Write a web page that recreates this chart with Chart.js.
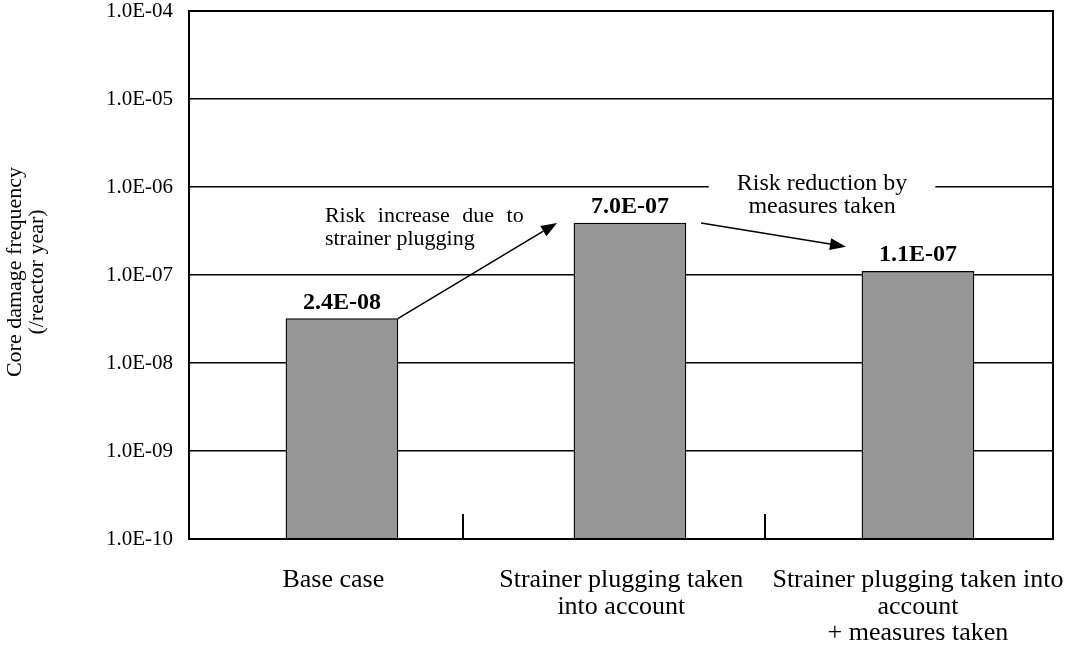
<!DOCTYPE html>
<html>
<head>
<meta charset="utf-8">
<script src="https://cdn.jsdelivr.net/npm/chart.js@4.4.0/dist/chart.umd.min.js"></script>
<style>
  html, body { margin: 0; padding: 0; background: #fff; }
</style>
</head>
<body>
<canvas id="cdfChart" width="1073" height="652"></canvas>
<script>
// --- data ---
const categories = [
  ['Base case'],
  ['Strainer plugging taken', 'into account'],
  ['Strainer plugging taken into', 'account', '+ measures taken']
];
const barPositions = [0, 1, 2];
const labelPositions = [-0.03, 0.97, 2];
const cdfValues = [3.2e-8, 3.9e-7, 1.1e-7];          // bar heights as drawn
const valueLabels = ['2.4E-08', '7.0E-07', '1.1E-07']; // printed labels
const yTicks = [1e-10, 1e-9, 1e-8, 1e-7, 1e-6, 1e-5, 1e-4];
const separatorTicks = [0.42, 1.47];
const arrows = [
  { from: [0.194, 3.2e-8], to: [0.747, 3.9e-7] },
  { from: [1.247, 3.9e-7], to: [1.75, 2.1e-7] }
];
const notes = [
  { lines: ['Risk increase due to', 'strainer plugging'], at: [-0.059, 4.0e-7], align: 'left', box: false, size: 22 },
  { lines: ['Risk reduction by', 'measures taken'], at: [1.667, 9.2e-7], align: 'center', box: true, size: 24 }
];
const yTitle = ['Core damage frequency', '(/reactor year)'];

const SERIF = "'Liberation Serif', 'Times New Roman', serif";

function fmtExp(v) {
  const parts = v.toExponential(1).split('e');
  const n = parseInt(parts[1], 10);
  return parts[0] + 'E' + (n < 0 ? '-' : '+') + String(Math.abs(n)).padStart(2, '0');
}

const decor = {
  id: 'decor',
  afterDraw(chart) {
    const ctx = chart.ctx;
    const xs = chart.scales.x, ys = chart.scales.y;
    const area = chart.chartArea;
    ctx.save();
    ctx.strokeStyle = '#000';
    ctx.fillStyle = '#000';

    // frame
    ctx.lineWidth = 2;
    ctx.strokeRect(area.left, area.top, area.right - area.left, area.bottom - area.top);

    // category separators
    separatorTicks.forEach(v => {
      const x = Math.round(xs.getPixelForValue(v));
      ctx.beginPath();
      ctx.moveTo(x, area.bottom - 25);
      ctx.lineTo(x, area.bottom);
      ctx.stroke();
    });

    // value labels
    ctx.font = 'bold 24px ' + SERIF;
    ctx.textAlign = 'center';
    ctx.textBaseline = 'alphabetic';
    chart.getDatasetMeta(0).data.forEach((bar, i) => {
      ctx.fillText(valueLabels[i], bar.x, bar.y - 10);
    });

    // arrows
    ctx.lineWidth = 1.5;
    arrows.forEach(a => {
      const x1 = xs.getPixelForValue(a.from[0]), y1 = ys.getPixelForValue(a.from[1]);
      const x2 = xs.getPixelForValue(a.to[0]), y2 = ys.getPixelForValue(a.to[1]);
      const ang = Math.atan2(y2 - y1, x2 - x1);
      const len = 16, half = 6;
      const bx = x2 - len * Math.cos(ang), by = y2 - len * Math.sin(ang);
      ctx.beginPath();
      ctx.moveTo(x1, y1);
      ctx.lineTo(bx, by);
      ctx.stroke();
      ctx.beginPath();
      ctx.moveTo(x2, y2);
      ctx.lineTo(bx + half * Math.sin(ang), by - half * Math.cos(ang));
      ctx.lineTo(bx - half * Math.sin(ang), by + half * Math.cos(ang));
      ctx.closePath();
      ctx.fill();
    });

    // notes
    notes.forEach(n => {
      const x = xs.getPixelForValue(n.at[0]), y = ys.getPixelForValue(n.at[1]);
      ctx.font = n.size + 'px ' + SERIF;
      ctx.textAlign = n.align;
      if (n.box) {
        const w = ctx.measureText(n.lines[0]).width + 56;
        ctx.fillStyle = '#fff';
        ctx.fillRect(x - w / 2, y - 20, w, 26);
        ctx.fillStyle = '#000';
      }
      n.lines.forEach((t, i) => {
        ctx.wordSpacing = (!n.box && i === 0) ? '7px' : '0px';
        ctx.fillText(t, x, y + i * 23);
      });
      ctx.wordSpacing = '0px';
    });

    // y axis title
    ctx.font = '22px ' + SERIF;
    ctx.textAlign = 'center';
    ctx.textBaseline = 'middle';
    ctx.translate(26, 272);
    ctx.rotate(-Math.PI / 2);
    ctx.fillText(yTitle[0], 0, -11);
    ctx.fillText(yTitle[1], 0, 11);
    ctx.restore();
  }
};

new Chart(document.getElementById('cdfChart').getContext('2d'), {
  type: 'bar',
  data: {
    datasets: [{
      data: barPositions.map((x, i) => ({ x: x, y: cdfValues[i] })),
      backgroundColor: '#969696',
      borderColor: '#000',
      borderWidth: 1.3,
      barThickness: 112,
      borderSkipped: 'start'
    }]
  },
  options: {
    responsive: false,
    animation: false,
    devicePixelRatio: 1,
    layout: { padding: { top: 11, right: 20, left: 0, bottom: 0 } },
    plugins: { legend: { display: false }, tooltip: { enabled: false } },
    scales: {
      x: {
        type: 'linear',
        min: -0.531,
        max: 2.469,
        offset: false,
        grid: { display: false, drawTicks: false },
        border: { display: false },
        afterBuildTicks: s => { s.ticks = labelPositions.map(v => ({ value: v })); },
        afterFit: s => { s.height = 113; s.paddingLeft = 0; s.paddingRight = 0; },
        ticks: {
          autoSkip: false,
          maxRotation: 0,
          padding: 28,
          color: '#000',
          font: { family: SERIF, size: 26, lineHeight: 1.02 },
          callback: v => categories[labelPositions.indexOf(v)]
        }
      },
      y: {
        type: 'logarithmic',
        min: 1e-10,
        max: 1e-4,
        grid: { color: '#000', lineWidth: 1.6, drawTicks: false },
        border: { display: false },
        afterBuildTicks: s => { s.ticks = yTicks.map(v => ({ value: v })); },
        afterFit: s => { s.width = 189; s.paddingTop = 0; s.paddingBottom = 0; },
        ticks: {
          padding: 16,
          color: '#000',
          font: { family: SERIF, size: 21 },
          callback: v => fmtExp(v)
        }
      }
    }
  },
  plugins: [decor]
});
</script>
</body>
</html>
